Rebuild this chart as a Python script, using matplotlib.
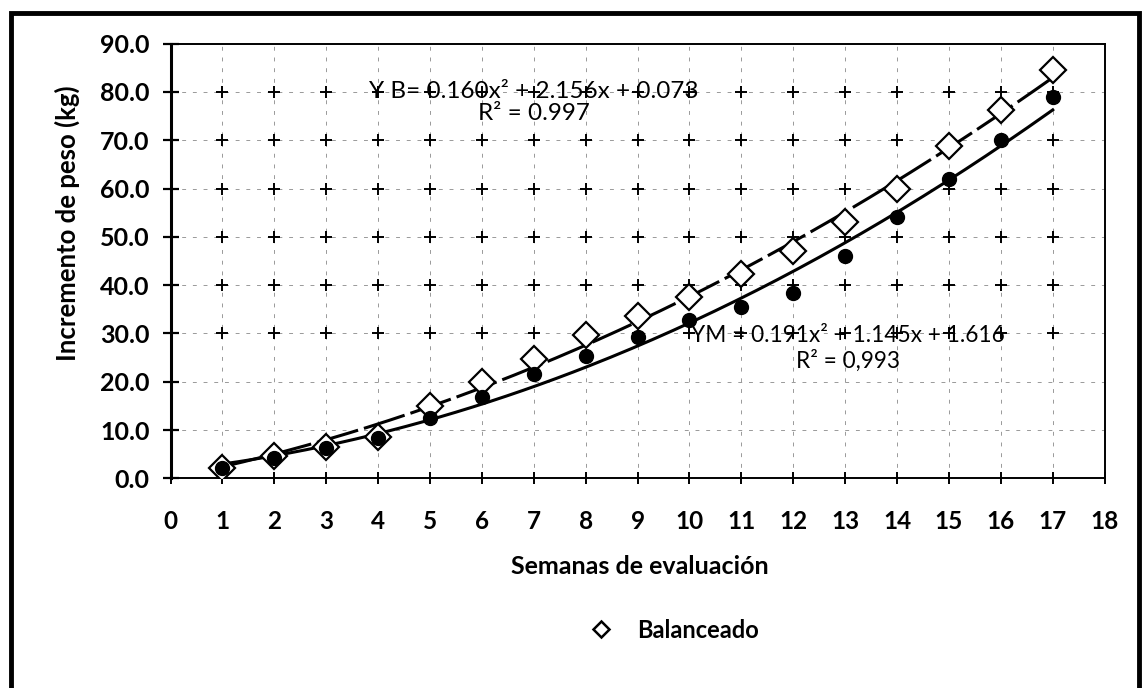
import numpy as np
import matplotlib.pyplot as plt
from matplotlib.lines import Line2D
from matplotlib.patches import Rectangle

plt.rcParams['font.family'] = ['Lato', 'DejaVu Sans']

# data
semanas = [1, 2, 3, 4, 5, 6, 7, 8, 9, 10, 11, 12, 13, 14, 15, 16, 17]
balanceado = [2.2, 4.6, 6.5, 8.6, 15.0, 20.0, 24.8, 29.7, 33.6, 37.6, 42.4, 47.0, 53.0, 60.0, 68.8, 76.3, 84.5]
mejorado = [2.1, 4.2, 6.2, 8.3, 12.4, 16.8, 21.6, 25.4, 29.2, 32.8, 35.4, 38.4, 46.0, 54.0, 62.0, 70.0, 79.0]

# trend line coefficients (a, b, c) from the equations on the chart
coef_b = [0.160, 2.156, 0.073]
coef_m = [0.191, 1.145, 1.616]

eq_b = "Y B= 0.160x² + 2.156x + 0.073\nR² = 0.997"
eq_m = "YM = 0.191x² + 1.145x + 1.616\nR² = 0,993"

x_ticks = list(range(0, 19))
y_ticks = list(range(0, 91, 10))

fig = plt.figure(figsize=(11.42, 6.88), dpi=100)
ax = fig.add_axes([0.1493, 0.3048, 0.818, 0.6318])

ax.set_xlim(0, 18)
ax.set_ylim(0, 90)

# grid: faint dash-dot lines plus small crosses at intersections
for xv in x_ticks[1:-1]:
    ax.axvline(xv, color='#999999', lw=0.7, ls=(0, (4, 7)), zorder=0)
for yv in y_ticks[1:-1]:
    ax.axhline(yv, color='#999999', lw=0.7, ls=(0, (4, 7)), zorder=0)
gx, gy = np.meshgrid(x_ticks[1:-1], y_ticks[3:-1])
ax.plot(gx.ravel(), gy.ravel(), '+', color='black', ms=9, mew=1.4, zorder=1)

# trend lines
xs = np.linspace(1, 17, 200)
ax.plot(xs, np.polyval(coef_b, xs), color='black', lw=2.2, ls=(0, (14, 2)), zorder=3)
ax.plot(xs, np.polyval(coef_m, xs), color='black', lw=2.2, zorder=3)

# series
ax.plot(semanas, balanceado, 'D', ms=13, mfc='white', mec='black', mew=1.6,
        zorder=4, label='Balanceado')
ax.plot(semanas, mejorado, 'o', ms=10, color='black', zorder=5)

ax.text(7.0, 77.8, eq_b, ha='center', va='center', fontsize=17.5,
        linespacing=1.1, zorder=6)
ax.text(13.05, 26.8, eq_m, ha='center', va='center', fontsize=16.3,
        linespacing=1.2, zorder=6)

ax.set_xticks(x_ticks)
ax.set_yticks(y_ticks)
ax.set_yticklabels([f"{v:.1f}" for v in y_ticks])
ax.tick_params(axis='y', direction='inout', length=12, width=1.6, pad=9,
               labelsize=18)
ax.tick_params(axis='x', direction='inout', length=9, width=1.4, pad=18,
               labelsize=17.5)
for lab in ax.get_xticklabels() + ax.get_yticklabels():
    lab.set_fontweight('bold')

for side in ['top', 'right', 'bottom']:
    ax.spines[side].set_linewidth(1.4)
ax.spines['left'].set_linewidth(2.2)

fig.text(67 / 1142, 1 - 223 / 688, 'Incremento de peso (kg)', rotation=90,
         ha='center', va='center', fontsize=18.5, fontweight='bold')
fig.text(0.56, 1 - 566 / 688, 'Semanas de evaluación', ha='center',
         va='center', fontsize=18, fontweight='bold')

handle = Line2D([], [], marker='D', ls='none', ms=8, mfc='white', mec='black', mew=1.8)
fig.legend([handle], ['Balanceado'], loc='center', bbox_to_anchor=(0.585, 1 - 630 / 688),
           frameon=False, prop={'weight': 'bold', 'size': 17},
           handletextpad=0.5)

# outer frame around the whole figure
fig.patches.append(Rectangle((0.0096, -0.2), 0.988, 1.181, transform=fig.transFigure,
                             fill=False, lw=3.5, edgecolor='black'))

fig.savefig('out.png', dpi=100)
